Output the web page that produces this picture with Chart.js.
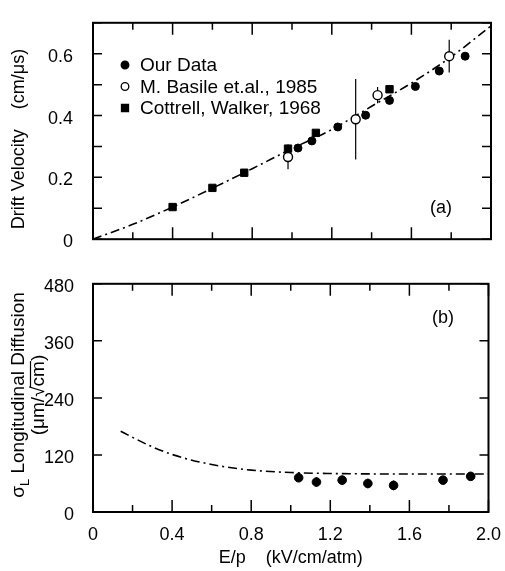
<!DOCTYPE html>
<html>
<head>
<meta charset="utf-8">
<script src="https://cdn.jsdelivr.net/npm/chart.js@4.4.1/dist/chart.umd.min.js"></script>
<style>
  html, body { margin: 0; padding: 0; background: #fff; }
  #wrap { position: relative; width: 505px; height: 571px; }
  #wrap canvas { position: absolute; left: 0; }
</style>
</head>
<body>
<div id="wrap">
  <canvas id="velocity" width="505" height="262" style="top:0;width:505px;height:262px"></canvas>
  <canvas id="diffusion" width="505" height="309" style="top:262px;width:505px;height:309px"></canvas>
</div>
<script>
// E/p in kV/cm/atm, drift velocity in cm/us
const ourX = [1.03, 1.10, 1.23, 1.37, 1.49, 1.62, 1.74, 1.87];
const ourVel = [0.295, 0.318, 0.363, 0.401, 0.449, 0.494, 0.544, 0.592];

const basileX = [0.98, 1.32, 1.43, 1.79];
const basileVel = [0.266, 0.388, 0.466, 0.592];
const basileErr = [0.04, 0.13, 0.026, 0.053];

const cottrellX = [0.40, 0.60, 0.76, 0.98, 1.12, 1.49];
const cottrellVel = [0.104, 0.166, 0.215, 0.293, 0.344, 0.485];

// calculated drift velocity (dash-dot curve)
const calcX = [0, 0.2, 0.4, 0.6, 0.8, 1.0, 1.2, 1.4, 1.6, 1.8, 2.0];
const calcVel = [0, 0.048, 0.104, 0.165, 0.228, 0.293, 0.355, 0.43, 0.505, 0.59, 0.69];

// longitudinal diffusion, um/sqrt(cm)
const diffX = [1.04, 1.13, 1.26, 1.39, 1.52, 1.77, 1.91];
const diffSigma = [72, 63, 67, 60, 56, 67, 75];
const diffErr = [8, 10, 10, 10, 10, 8, 6];

const calcDiffX = [0.14, 0.2, 0.3, 0.4, 0.5, 0.6, 0.7, 0.8, 1.0, 1.2, 1.5, 2.0];
const calcSigma = [170, 157, 137, 121, 109, 100, 93, 88, 83, 81, 80, 80];

// tick positions (labelled ones are every other x tick and every other velocity tick)
const xTicks = [0, 0.2, 0.4, 0.6, 0.8, 1.0, 1.2, 1.4, 1.6, 1.8, 2.0];
const velTicks = [0, 0.1, 0.2, 0.3, 0.4, 0.5, 0.6, 0.7];
const sigmaTicks = [0, 120, 240, 360, 480];

const FAMILY = "'Liberation Sans', Arial, Helvetica, sans-serif";
Chart.defaults.font.family = FAMILY;
Chart.defaults.color = '#000';

const pts = (xs, ys) => xs.map((x, i) => ({ x, y: ys[i] }));

// box with inward tick marks on all four sides
const frame = {
  id: 'frame',
  afterDatasetsDraw(chart, args, opts) {
    const { ctx, chartArea: a, scales: { x, y } } = chart;
    ctx.save();
    ctx.strokeStyle = '#000';
    ctx.lineWidth = 1.5;
    ctx.beginPath();
    opts.xTicks.forEach((v, i) => {
      const px = x.getPixelForValue(v);
      const len = i % 2 === 0 ? 12 : 7;
      ctx.moveTo(px, a.bottom); ctx.lineTo(px, a.bottom - len);
      ctx.moveTo(px, a.top); ctx.lineTo(px, a.top + len);
    });
    opts.yTicks.forEach(v => {
      const py = y.getPixelForValue(v);
      ctx.moveTo(a.left, py); ctx.lineTo(a.left + 9, py);
      ctx.moveTo(a.right, py); ctx.lineTo(a.right - 9, py);
    });
    ctx.stroke();
    ctx.lineWidth = 2;
    ctx.strokeRect(a.left, a.top, a.right - a.left, a.bottom - a.top);
    ctx.restore();
  }
};

// vertical error bars, drawn under the markers
const errorBars = {
  id: 'errorBars',
  beforeDatasetsDraw(chart, args, opts) {
    const { ctx, scales: { x, y } } = chart;
    ctx.save();
    ctx.strokeStyle = '#000';
    ctx.lineWidth = 1.2;
    ctx.beginPath();
    opts.sets.forEach(s => {
      s.x.forEach((v, i) => {
        const px = x.getPixelForValue(v);
        ctx.moveTo(px, y.getPixelForValue(s.y[i] - s.err[i]));
        ctx.lineTo(px, y.getPixelForValue(s.y[i] + s.err[i]));
      });
    });
    ctx.stroke();
    ctx.restore();
  }
};

function marker(ctx, style, fill, x, y) {
  ctx.beginPath();
  if (style === 'rect') {
    ctx.rect(x - 3.5, y - 3.5, 7, 7);
  } else {
    ctx.arc(x, y, 3.8, 0, Math.PI * 2);
  }
  ctx.fillStyle = fill;
  ctx.fill();
  ctx.lineWidth = 1.3;
  ctx.strokeStyle = '#000';
  ctx.stroke();
}

// legend, panel tag and rotated axis title
const notes = {
  id: 'notes',
  afterDraw(chart, args, opts) {
    const ctx = chart.ctx;
    ctx.save();
    ctx.fillStyle = '#000';
    if (opts.legend) {
      const L = opts.legend;
      chart.data.datasets.filter(d => d.label).forEach((d, i) => {
        const yy = L.y + i * L.step;
        marker(ctx, d.pointStyle, d.backgroundColor, L.x, yy);
        ctx.fillStyle = '#000';
        ctx.font = '19px ' + FAMILY;
        ctx.textAlign = 'left';
        ctx.textBaseline = 'middle';
        ctx.fillText(d.label, L.x + 15, yy + 1);
      });
    }
    ctx.font = '18px ' + FAMILY;
    ctx.textAlign = 'center';
    ctx.textBaseline = 'middle';
    ctx.fillText(opts.tag.text, opts.tag.x, opts.tag.y);
    if (opts.drawTitle) opts.drawTitle(ctx);
    ctx.restore();
  }
};

function velocityTitle(ctx) {
  ctx.save();
  ctx.translate(19, 139);
  ctx.rotate(-Math.PI / 2);
  ctx.font = '18px ' + FAMILY;
  ctx.textAlign = 'center';
  ctx.textBaseline = 'middle';
  ctx.fillText('Drift Velocity    (cm/\u03bcs)', 0, 0);
  ctx.restore();
}

function diffusionTitle(ctx) {
  ctx.save();
  ctx.translate(19, 133);
  ctx.rotate(-Math.PI / 2);
  ctx.textBaseline = 'middle';
  ctx.textAlign = 'left';
  const big = '19px ' + FAMILY, small = '13px ' + FAMILY;
  ctx.font = big;
  const wS = ctx.measureText('\u03c3').width;
  const rest = ' Longitudinal Diffusion';
  const wR = ctx.measureText(rest).width;
  ctx.font = small;
  const wL = ctx.measureText('L').width;
  const x0 = -(wS + wL + wR) / 2;
  ctx.font = big;
  ctx.fillText('\u03c3', x0, 0);
  ctx.font = small;
  ctx.fillText('L', x0 + wS, 6);
  ctx.font = big;
  ctx.fillText(rest, x0 + wS + wL, 0);

  // second line: (um/sqrt cm)
  const dy = 20;
  const parts = ['(\u03bcm/', '\u221a', 'cm', ')'];
  const ws = parts.map(p => ctx.measureText(p).width);
  let x = -ws.reduce((s, w) => s + w, 0) / 2;
  parts.forEach((p, i) => {
    ctx.fillText(p, x, dy);
    if (i === 2) {
      ctx.beginPath();
      ctx.lineWidth = 1.2;
      ctx.moveTo(x - 1, dy - 8.5);
      ctx.lineTo(x + ws[i], dy - 8.5);
      ctx.stroke();
    }
    x += ws[i];
  });
  ctx.restore();
}

const tickFont = { family: FAMILY, size: 18 };
const fmt = v => (v === 0 ? '0' : v.toFixed(1));

new Chart(document.getElementById('velocity'), {
  type: 'scatter',
  data: {
    datasets: [
      { label: 'Our Data', data: pts(ourX, ourVel), pointStyle: 'circle',
        pointRadius: 4, backgroundColor: '#000', borderColor: '#000', borderWidth: 1 },
      { label: 'M. Basile et.al., 1985', data: pts(basileX, basileVel), pointStyle: 'circle',
        pointRadius: 4.5, backgroundColor: '#fff', borderColor: '#000', borderWidth: 1.4 },
      { label: 'Cottrell, Walker, 1968', data: pts(cottrellX, cottrellVel), pointStyle: 'rect',
        pointRadius: 5.2, backgroundColor: '#000', borderColor: '#000', borderWidth: 1 },
      { data: pts(calcX, calcVel), showLine: true, pointRadius: 0, borderColor: '#000',
        borderWidth: 1.6, borderDash: [9, 4, 2, 4], cubicInterpolationMode: 'monotone' }
    ]
  },
  options: {
    responsive: false,
    animation: false,
    devicePixelRatio: 1,
    layout: { padding: { top: 8, right: 14, left: 0, bottom: 0 } },
    scales: {
      x: {
        type: 'linear', min: 0, max: 2,
        ticks: { display: false, stepSize: 0.2 },
        grid: { display: false }, border: { display: false },
        afterFit: s => { s.height = 9; }
      },
      y: {
        min: 0, max: 0.7,
        ticks: {
          stepSize: 0.1, padding: 12, font: tickFont, autoSkip: false, labelOffset: 3,
          callback: v => (Math.round(v * 10) % 2 === 0 && v < 0.65) ? fmt(v) : ''
        },
        grid: { display: false }, border: { display: false },
        afterFit: s => { s.width = 93; }
      }
    },
    plugins: {
      legend: { display: false },
      tooltip: { enabled: false },
      frame: { xTicks, yTicks: velTicks },
      errorBars: { sets: [{ x: basileX, y: basileVel, err: basileErr }] },
      notes: {
        legend: { x: 125, y: 65, step: 21.5 },
        tag: { text: '(a)', x: 441, y: 208 },
        drawTitle: velocityTitle
      }
    }
  },
  plugins: [errorBars, frame, notes]
});

new Chart(document.getElementById('diffusion'), {
  type: 'scatter',
  data: {
    datasets: [
      { data: pts(diffX, diffSigma), pointStyle: 'circle', pointRadius: 4.3,
        backgroundColor: '#000', borderColor: '#000', borderWidth: 1 },
      { data: pts(calcDiffX, calcSigma), showLine: true, pointRadius: 0, borderColor: '#000',
        borderWidth: 1.6, borderDash: [9, 4, 2, 4], cubicInterpolationMode: 'monotone' }
    ]
  },
  options: {
    responsive: false,
    animation: false,
    devicePixelRatio: 1,
    layout: { padding: { top: 19, right: 14, left: 0, bottom: 0 } },
    scales: {
      x: {
        type: 'linear', min: 0, max: 2,
        ticks: {
          stepSize: 0.2, padding: 4, font: tickFont, autoSkip: false, maxRotation: 0,
          callback: v => Math.round(v * 5) % 2 === 0 ? fmt(v) : ''
        },
        grid: { display: false }, border: { display: false },
        title: { display: true, text: 'E/p    (kV/cm/atm)', font: { family: FAMILY, size: 18 },
                 padding: { top: 0, bottom: 2 } },
        afterFit: s => { s.height = 59; }
      },
      y: {
        min: 0, max: 480,
        ticks: { stepSize: 120, padding: 11, font: tickFont, labelOffset: 3 },
        grid: { display: false }, border: { display: false },
        afterFit: s => { s.width = 93; }
      }
    },
    plugins: {
      legend: { display: false },
      tooltip: { enabled: false },
      frame: { xTicks, yTicks: sigmaTicks },
      errorBars: { sets: [{ x: diffX, y: diffSigma, err: diffErr }] },
      notes: {
        tag: { text: '(b)', x: 443, y: 56 },
        drawTitle: diffusionTitle
      }
    }
  },
  plugins: [errorBars, frame, notes]
});
</script>
</body>
</html>
